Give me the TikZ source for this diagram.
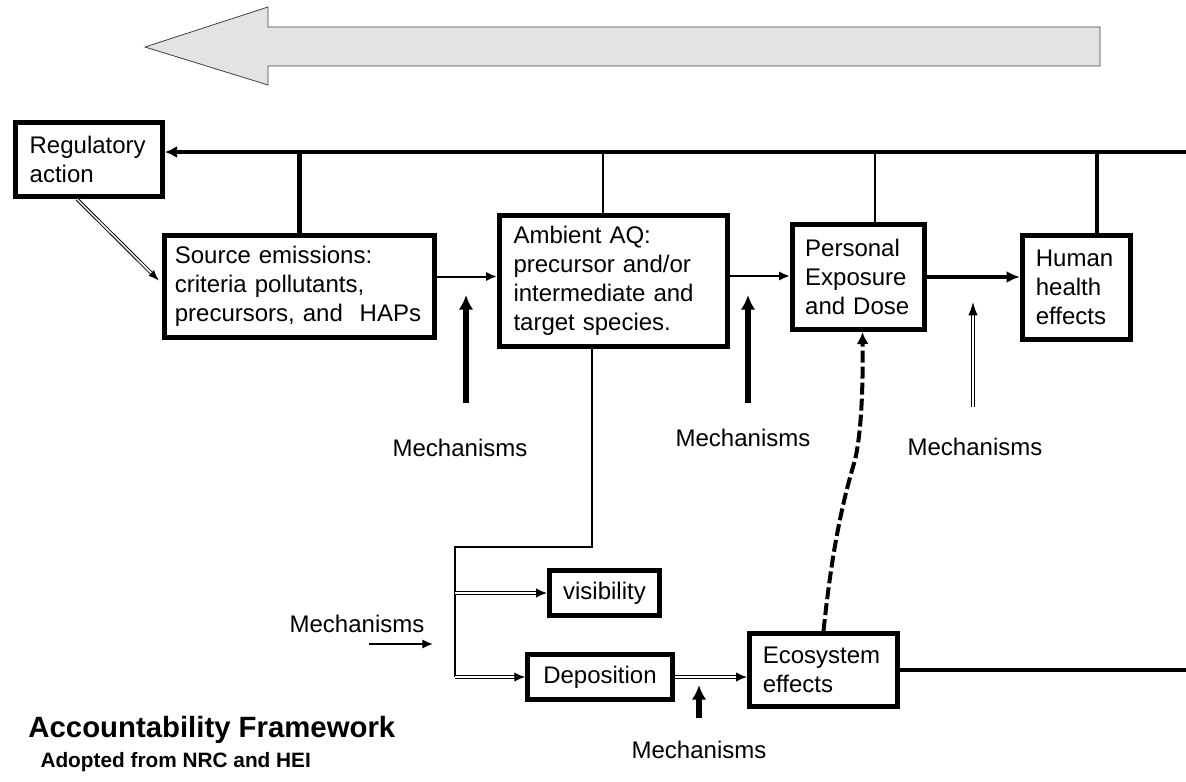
\documentclass[tikz,border=0pt]{standalone}
\usepackage{fontspec}
\setmainfont{Liberation Sans}
\usetikzlibrary{arrows.meta,calc}
\definecolor{bandgray}{RGB}{227,227,227}
\tikzset{every picture/.style={line width=0.75pt}}
\tikzset{
  box/.style={draw, line width=4pt, inner xsep=10.5pt, inner ysep=0pt, align=left, font=\fontsize{18}{21.75}\selectfont},
  lab/.style={inner sep=0pt, font=\fontsize{18}{21.75}\selectfont},
  dbl/.style={double, double distance=1.1pt, line width=0.75pt},
  mech/.style={line width=4pt, -{Latex[length=11pt,width=11pt]}},
  tip/.style={-{Latex[length=8pt,width=7pt]}}
}

\begin{document}
\begin{tikzpicture}[x=0.75pt,y=0.75pt,yscale=-1,xscale=1]
\useasboundingbox (0,0) rectangle (1186,782);
\draw [fill=bandgray, draw=black!75, line width=0.6pt] (145,47) -- (268,7) -- (268,27) -- (1100,27) -- (1100,66) -- (268,66) -- (268,85) -- cycle;

\node [box, minimum width=110pt, minimum height=55.5pt, text width=89pt] (reg) at (89,159.5) {Regulatory\\action};
\node [box, minimum width=202.5pt, minimum height=76.5pt, text width=187pt, inner xsep=7.75pt] (src) at (299.5,286.5) {Source emissions:\\criteria pollutants,\\precursors, and\hspace{0.7em}HAPs};
\node [box, minimum width=171pt, minimum height=98pt, text width=150pt] (amb) at (613.5,281) {Ambient AQ:\\precursor and/or\\intermediate and\\target species.};
\node [box, minimum width=99pt, minimum height=78.5pt, text width=80pt, inner xsep=9.5pt] (pers) at (858.5,277) {Personal\\Exposure\\and Dose};
\node [box, minimum width=81pt, minimum height=78pt, text width=61pt, inner xsep=10pt] (hum) at (1076.5,287.5) {Human\\health\\effects};
\node [box, minimum width=82.5pt, minimum height=33.5pt, align=center, inner xsep=0pt] (vis) at (604.5,593) {visibility};
\node [box, minimum width=108.5pt, minimum height=33.5pt, align=center, inner xsep=0pt] (dep) at (600,677) {Deposition};
\node [box, minimum width=111pt, minimum height=54.5pt, text width=91pt, inner xsep=10pt] (eco) at (823.5,670) {Ecosystem\\effects};

\coordinate (topR) at (1186,152);
\coordinate (tA) at (603,152);
\coordinate (tP) at (875,152);
\coordinate (tH) at (1097,152);
\draw [line width=3.5pt, -{Latex[length=9pt,width=9pt]}] (topR) -- (topR -| reg.east);
\draw [line width=4pt] (src.north |- topR) -- (src.north);
\draw [line width=2pt] (tA) -- (tA |- amb.north);
\draw [line width=2pt] (tP) -- (tP |- pers.north);
\draw [line width=2.5pt] (tH) -- (tH |- hum.north);

\draw [dbl, -{Latex[length=8pt,width=6pt]}] ($(reg.south)+(-12,0)$) -- ($(src.west)+(-3,-6)$);
\draw [line width=1.5pt, tip] ($(src.east)+(0,-10)$) coordinate (s1) -- (s1 -| amb.west);
\draw [line width=1.5pt, tip] ($(amb.east)+(0,-5)$) coordinate (a1) -- (a1 -| pers.west);
\draw [line width=2.5pt, -{Latex[length=10pt,width=9pt]}] (pers.east) -- (pers.east -| hum.west);

\node [lab] (m1) at (460,448) {Mechanisms};
\draw [mech] ($(m1)+(6,-45)$) -- ++(0,-108);
\node [lab] (m2) at (743,438) {Mechanisms};
\draw [mech] ($(m2)+(5,-35)$) -- ++(0,-108);
\node [lab] (m3) at (975,447) {Mechanisms};
\draw [dbl, -{Latex[length=10pt,width=7pt]}] ($(m3)+(-2,-40)$) -- ++(0,-105);

\coordinate (bj) at (455,547);
\draw [line width=1.8pt] ($(amb.south)+(-21.5,0)$) |- (bj) -- (bj |- dep.west);
\draw [dbl, tip] (bj |- vis.west) -- (vis.west);
\draw [dbl, tip] (bj |- dep.west) -- (dep.west);

\node [lab] (m4) at (357,624) {Mechanisms};
\draw [line width=1.5pt, tip] ($(m4)+(12,20)$) -- ++(64,0);

\draw [dbl, tip] (dep.east) -- (dep.east -| eco.west);
\draw [line width=2.5pt] (eco.east) -- (eco.east -| topR);
\node [lab] (m5) at (699,750) {Mechanisms};
\draw [mech] ($(m5)+(0,-32)$) -- ++(0,-33);

\draw [line width=3pt, dash pattern=on 9pt off 3pt, -{Latex[length=9pt,width=9pt]}] (eco.north) .. controls (831,560) and (840,510) .. (855,460) .. controls (862,430) and (863,380) .. ($(pers.south)+(4,0)$);

\node [anchor=west, inner sep=0pt, font=\fontsize{22}{26}\selectfont\bfseries] (ttl) at (28,729.5) {Accountability Framework};
\node [anchor=west, inner sep=0pt, font=\fontsize{15.6}{19}\selectfont\bfseries] (sub) at (40,762.5) {Adopted from NRC and HEI};
\end{tikzpicture}
\end{document}
